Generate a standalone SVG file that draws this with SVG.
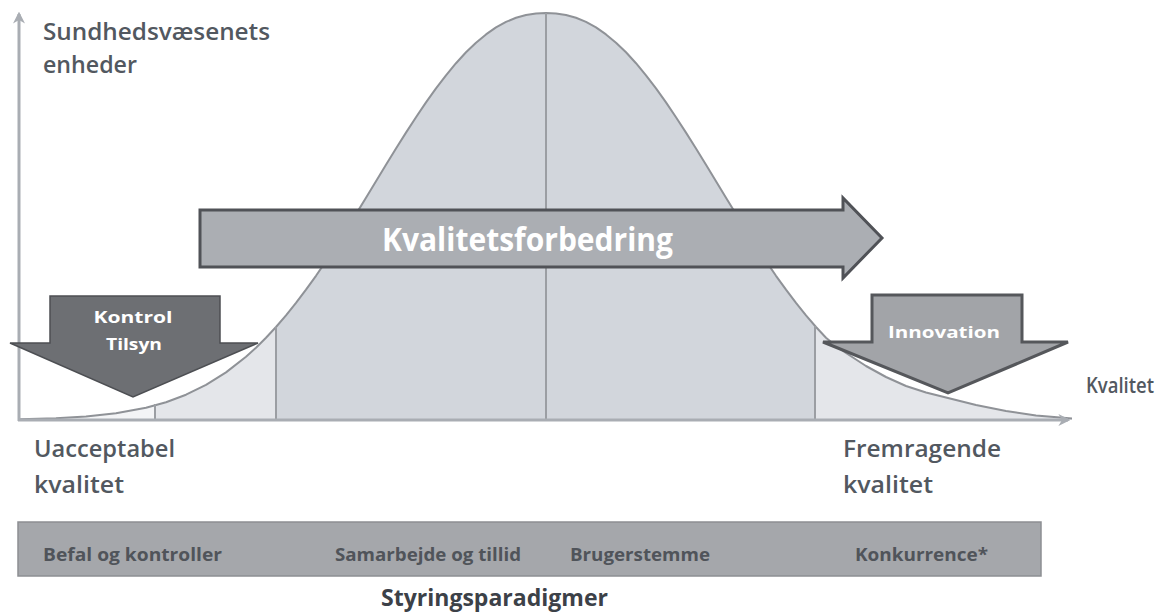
<svg xmlns="http://www.w3.org/2000/svg" width="1166" height="613" viewBox="0 0 1166 613">
<defs>
<style>
.lbl{font-family:"Open Sans","Liberation Sans",sans-serif;font-weight:600;fill:#525860;}
.dark{font-family:"Open Sans","Liberation Sans",sans-serif;font-weight:700;fill:#3c4148;}
.wht{font-family:"Open Sans","Liberation Sans",sans-serif;font-weight:700;fill:#ffffff;}
.bar{font-family:"Open Sans","Liberation Sans",sans-serif;font-weight:700;fill:#50545a;font-size:18px;}
.vline{stroke:#9b9ea3;stroke-width:2;fill:none;}
.axis{stroke:#a9adb3;stroke-width:3;fill:none;}
</style>
<marker id="ah" viewBox="0 0 10 10" refX="8" refY="5" markerWidth="4" markerHeight="4" orient="auto" markerUnits="strokeWidth">
<path d="M0,0 L10,5 L0,10 L3,5 Z" fill="#a9adb3"/>
</marker>
<clipPath id="bellclip">
<path id="bellarea" d="M20,419.3 L56,418.3 L86,416.5 L116,413.3 L146,407.8 L166,402.2 L186,394.7 L206,384.9 L226,372.4 L246,356.7 L256,347.7 L266,337.7 L276,327 L286,315.4 L296,302.9 L306,289.7 L316,275.8 L326,261.1 L336,245.9 L346,230.2 L356,214.1 L366,197.7 L376,181.2 L386,164.8 L396,148.5 L406,132.6 L416,117.2 L426,102.4 L436,88.3 L446,75.3 L456,63.2 L466,52.3 L476,42.7 L486,34.4 L496,27.4 L506,21.9 L516,17.8 L526,15 L536,13.4 L546,13 L556,13.4 L566,15 L576,17.8 L586,21.9 L596,27.4 L606,34.4 L616,42.7 L626,52.3 L636,63.2 L646,75.3 L656,88.3 L666,102.4 L676,117.2 L686,132.6 L696,148.5 L706,164.8 L716,181.2 L726,197.7 L736,214.1 L746,230.2 L756,245.9 L766,261.1 L776,275.8 L786,289.7 L796,302.9 L806,315.4 L816,327 L826,337.7 L836,346 L846,353 L866,366 L886,377 L906,386 L926,392.5 L946,397.5 L976,405 L1006,411 L1036,415.5 L1072,418.5 L1072,420 L20,420 Z"/>
</clipPath>
</defs>
<rect width="1166" height="613" fill="#ffffff"/>

<g id="bell">
<g clip-path="url(#bellclip)">
<rect x="19" y="0" width="136" height="421" fill="#f3f4f6"/>
<rect x="155" y="0" width="121" height="421" fill="#e4e6ea"/>
<rect x="276" y="0" width="539" height="421" fill="#d2d6dc"/>
<rect x="815" y="0" width="260" height="421" fill="#e4e6ea"/>
</g>
<path d="M20,419.3 L56,418.3 L86,416.5 L116,413.3 L146,407.8 L166,402.2 L186,394.7 L206,384.9 L226,372.4 L246,356.7 L256,347.7 L266,337.7 L276,327 L286,315.4 L296,302.9 L306,289.7 L316,275.8 L326,261.1 L336,245.9 L346,230.2 L356,214.1 L366,197.7 L376,181.2 L386,164.8 L396,148.5 L406,132.6 L416,117.2 L426,102.4 L436,88.3 L446,75.3 L456,63.2 L466,52.3 L476,42.7 L486,34.4 L496,27.4 L506,21.9 L516,17.8 L526,15 L536,13.4 L546,13 L556,13.4 L566,15 L576,17.8 L586,21.9 L596,27.4 L606,34.4 L616,42.7 L626,52.3 L636,63.2 L646,75.3 L656,88.3 L666,102.4 L676,117.2 L686,132.6 L696,148.5 L706,164.8 L716,181.2 L726,197.7 L736,214.1 L746,230.2 L756,245.9 L766,261.1 L776,275.8 L786,289.7 L796,302.9 L806,315.4 L816,327 L826,337.7 L836,346 L846,353 L866,366 L886,377 L906,386 L926,392.5 L946,397.5 L976,405 L1006,411 L1036,415.5 L1072,418.5" fill="none" stroke="#8f9297" stroke-width="2" stroke-linejoin="round"/>
<line class="vline" x1="155" y1="404" x2="155" y2="420"/>
<line class="vline" x1="276" y1="327" x2="276" y2="420"/>
<line class="vline" x1="815" y1="326" x2="815" y2="420"/>
<line class="vline" x1="546" y1="13" x2="546" y2="420" stroke="#8c8f94"/>
</g>

<g id="axes">
<line class="axis" x1="19" y1="421" x2="19" y2="14" marker-end="url(#ah)"/>
<line class="axis" x1="18" y1="420" x2="1068" y2="420" marker-end="url(#ah)"/>
</g>

<g id="axis-labels">
<text class="lbl" x="43" y="40" font-size="23" textLength="227" lengthAdjust="spacingAndGlyphs">Sundhedsvæsenets</text>
<text class="lbl" x="43" y="73" font-size="23" textLength="94" lengthAdjust="spacingAndGlyphs">enheder</text>
<text class="lbl" x="1086" y="393" font-size="22" textLength="68" lengthAdjust="spacingAndGlyphs">Kvalitet</text>
<text class="lbl" x="34" y="457" font-size="23" textLength="141" lengthAdjust="spacingAndGlyphs">Uacceptabel</text>
<text class="lbl" x="34" y="493" font-size="23" textLength="90" lengthAdjust="spacingAndGlyphs">kvalitet</text>
<text class="lbl" x="843" y="457" font-size="23" textLength="158" lengthAdjust="spacingAndGlyphs">Fremragende</text>
<text class="lbl" x="843" y="493" font-size="23" textLength="90" lengthAdjust="spacingAndGlyphs">kvalitet</text>
</g>

<g id="kvalitetsforbedring">
<polygon points="200,210 843,210 843,198 882,238 843,278 843,267 200,267" fill="#abaeb3" stroke="#505257" stroke-width="3" stroke-linejoin="miter"/>
<text class="wht" x="382" y="251" font-size="32" textLength="291" lengthAdjust="spacingAndGlyphs">Kvalitetsforbedring</text>
</g>

<g id="kontrol">
<polygon points="50,296 220,296 220,343 258,343 133,397 10,343 50,343" fill="#6d6f73" stroke="#4d4f53" stroke-width="1.5"/>
<text class="wht" x="133" y="323" font-size="16" text-anchor="middle" textLength="79" lengthAdjust="spacingAndGlyphs">Kontrol</text>
<text class="wht" x="134" y="350" font-size="16" text-anchor="middle" textLength="56" lengthAdjust="spacingAndGlyphs">Tilsyn</text>
</g>

<g id="innovation">
<polygon points="872,295 1022,295 1022,342 1068,342 948,393 823,342 872,342" fill="#a2a4a8" stroke="#55575b" stroke-width="3"/>
<text class="wht" x="944" y="338" font-size="16" text-anchor="middle" textLength="112" lengthAdjust="spacingAndGlyphs">Innovation</text>
</g>

<g id="paradigmer">
<rect x="18" y="522" width="1023" height="54" fill="#a5a7ab" stroke="#8d8f93" stroke-width="1.5"/>
<text class="bar" x="43" y="561" textLength="179" lengthAdjust="spacingAndGlyphs">Befal og kontroller</text>
<text class="bar" x="335" y="561" textLength="186" lengthAdjust="spacingAndGlyphs">Samarbejde og tillid</text>
<text class="bar" x="570" y="561" textLength="140" lengthAdjust="spacingAndGlyphs">Brugerstemme</text>
<text class="bar" x="855" y="561" textLength="133" lengthAdjust="spacingAndGlyphs">Konkurrence*</text>
<text class="dark" x="381" y="606" font-size="23" textLength="227" lengthAdjust="spacingAndGlyphs">Styringsparadigmer</text>
</g>
</svg>
